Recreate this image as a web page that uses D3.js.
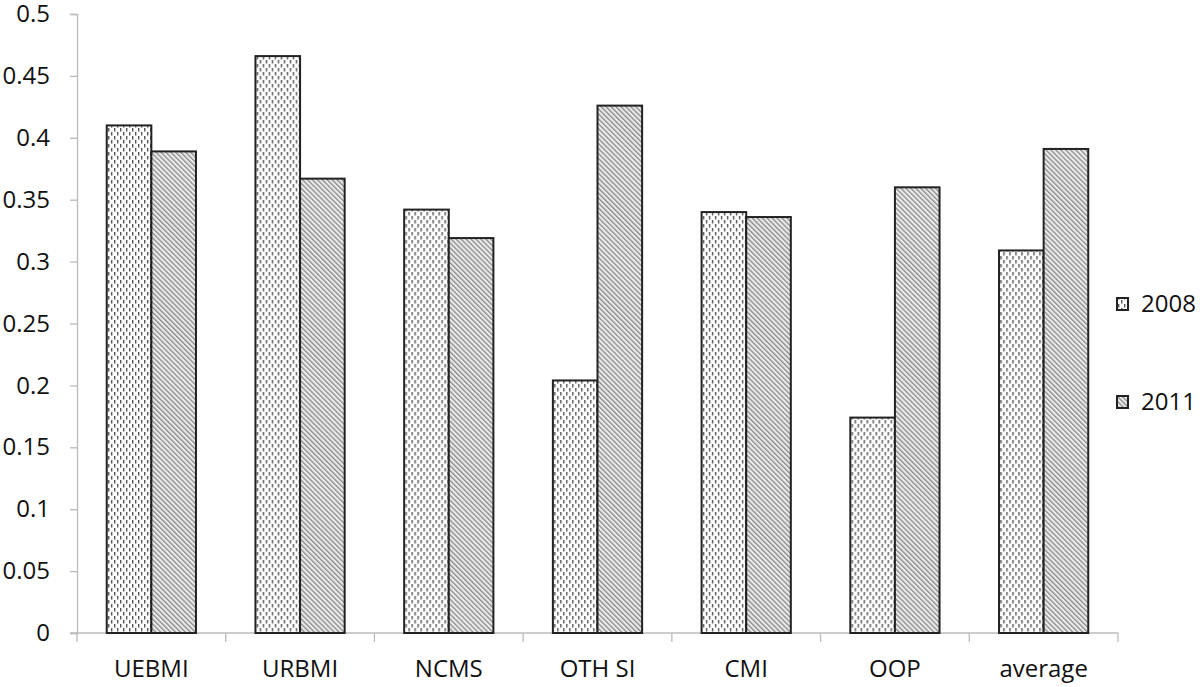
<!DOCTYPE html>
<html>
<head>
<meta charset="utf-8">
<script src="https://cdn.jsdelivr.net/npm/d3@7"></script>
<style>
  body { margin: 0; background: #fff; }
  text { font-family: "Open Sans", sans-serif; fill: #111; }
</style>
</head>
<body>
<div id="chart"></div>
<script>
var width = 1200, height = 687;

// data
var categories = ["UEBMI", "URBMI", "NCMS", "OTH SI", "CMI", "OOP", "average"];
var series = ["2008", "2011"];
var values2008 = [0.410, 0.466, 0.342, 0.204, 0.340, 0.174, 0.309];
var values2011 = [0.389, 0.367, 0.319, 0.426, 0.336, 0.360, 0.391];
var yTicks = [0, 0.05, 0.1, 0.15, 0.2, 0.25, 0.3, 0.35, 0.4, 0.45, 0.5];

var svg = d3.select("#chart").append("svg")
  .attr("width", width)
  .attr("height", height);

var defs = svg.append("defs");

// 2008: staggered short vertical dashes
var p1 = defs.append("pattern")
  .attr("id", "dots")
  .attr("patternUnits", "userSpaceOnUse")
  .attr("width", 6).attr("height", 8);
p1.append("rect").attr("width", 6).attr("height", 8).attr("fill", "#fff");
p1.append("rect").attr("x", 1).attr("y", 0).attr("width", 1.4).attr("height", 3.5).attr("fill", "#555");
p1.append("rect").attr("x", 4).attr("y", 4).attr("width", 1.4).attr("height", 3.5).attr("fill", "#555");

// 2011: diagonal hatch top-left to bottom-right
var p2 = defs.append("pattern")
  .attr("id", "hatch")
  .attr("patternUnits", "userSpaceOnUse")
  .attr("width", 3.5).attr("height", 3.5)
  .attr("patternTransform", "rotate(-45)");
p2.append("rect").attr("width", 3.5).attr("height", 3.5).attr("fill", "#eaeaea");
p2.append("rect").attr("x", 0).attr("y", 0).attr("width", 1.3).attr("height", 3.5).attr("fill", "#8a8a8a");

var fills = { "2008": "url(#dots)", "2011": "url(#hatch)" };

var y = d3.scaleLinear().domain([0, 0.5]).range([633, 14]);
var x0 = d3.scaleBand().domain(categories).range([77, 1118]).padding(0);
var x1 = d3.scaleBand().domain(series)
  .range([x0.bandwidth() * 0.2, x0.bandwidth() * 0.8]);

// y axis
var yAxis = svg.append("g")
  .attr("transform", "translate(77,0)")
  .call(d3.axisLeft(y).tickValues(yTicks).tickSize(7).tickPadding(20)
    .tickFormat(function (d) { return d3.format("")(+d.toFixed(2)); }));
yAxis.select(".domain").attr("stroke", "#bbb").attr("stroke-width", 1.3);
yAxis.selectAll(".tick line").attr("stroke", "#bbb").attr("stroke-width", 1.3);
yAxis.selectAll("text").style("font-size", "24px").attr("fill", "#111");

// x axis
var xAxis = svg.append("g").attr("transform", "translate(0,633)");
xAxis.append("line")
  .attr("x1", 70).attr("x2", 1118)
  .attr("stroke", "#bbb").attr("stroke-width", 1.3);
var bounds = categories.map(function (c) { return x0(c); }).concat([x0.range()[1]]);
xAxis.selectAll(".xt").data(bounds).enter().append("line")
  .attr("x1", function (d) { return d; }).attr("x2", function (d) { return d; })
  .attr("y1", 0).attr("y2", 9)
  .attr("stroke", "#bbb").attr("stroke-width", 1.3);
xAxis.selectAll(".xl").data(categories).enter().append("text")
  .attr("x", function (d) { return x0(d) + x0.bandwidth() / 2; })
  .attr("y", 44)
  .attr("text-anchor", "middle")
  .style("font-size", "24px")
  .text(function (d) { return d; });

// bars
var rows = categories.map(function (c, i) {
  return { cat: c, vals: [{ s: "2008", v: values2008[i] }, { s: "2011", v: values2011[i] }] };
});

svg.append("g").selectAll("g")
  .data(rows)
  .enter().append("g")
  .attr("transform", function (d) { return "translate(" + x0(d.cat) + ",0)"; })
  .selectAll("rect")
  .data(function (d) { return d.vals; })
  .enter().append("rect")
  .attr("x", function (d) { return x1(d.s); })
  .attr("y", function (d) { return y(d.v); })
  .attr("width", x1.bandwidth())
  .attr("height", function (d) { return y(0) - y(d.v); })
  .attr("fill", function (d) { return fills[d.s]; })
  .attr("stroke", "#222")
  .attr("stroke-width", 2);

// legend
var legendY = [304, 402];
var legend = svg.append("g").selectAll("g")
  .data(series)
  .enter().append("g")
  .attr("transform", function (d, i) { return "translate(1117," + legendY[i] + ")"; });
legend.append("rect")
  .attr("x", 0).attr("y", -6)
  .attr("width", 11).attr("height", 12)
  .attr("fill", function (d) { return fills[d]; })
  .attr("stroke", "#222").attr("stroke-width", 2);
legend.append("text")
  .attr("x", 24).attr("y", 0)
  .attr("dy", "0.35em")
  .style("font-size", "24px")
  .text(function (d) { return d; });
</script>
</body>
</html>
